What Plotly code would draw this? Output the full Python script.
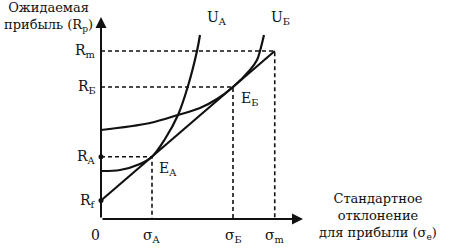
import plotly.graph_objects as go

# --- data (arbitrary units) ---
sigma_names = ["A", "Б", "m"]
sigma_vals = [2.04, 5.28, 6.95]
R_f = 0.74
R_m = 6.72
R_names = ["A", "Б"]
R_vals = [2.49, 5.28]

ua_x = [0.0, 0.76, 1.56, 2.04, 2.56, 3.08, 3.48, 3.84, 3.96]
ua_y = [1.92, 1.96, 2.20, 2.49, 3.20, 4.16, 5.32, 6.72, 7.36]
ub_x = [0.0, 1.96, 3.08, 3.96, 4.64, 5.28, 5.96, 6.24, 6.36, 6.52]
ub_y = [3.56, 3.84, 4.16, 4.44, 4.80, 5.28, 5.96, 6.36, 6.72, 7.36]

x_axis_end = 8.08
y_axis_end = 8.08

FONT = "DejaVu Serif"
BLACK = "#111111"

fig = go.Figure()

# dashed guide lines
dash = dict(color=BLACK, width=1.6, dash="4px,3px")
for sx, ry in zip(sigma_vals, R_vals + [R_m]):
    fig.add_trace(go.Scatter(x=[0, sx, sx], y=[ry, ry, 0], mode="lines",
                             line=dash, hoverinfo="skip"))

# capital market line
fig.add_trace(go.Scatter(x=[0, sigma_vals[2]], y=[R_f, R_m], mode="lines",
                         line=dict(color=BLACK, width=2.2), hoverinfo="skip"))

# indifference curves
fig.add_trace(go.Scatter(x=ua_x, y=ua_y, mode="lines",
                         line=dict(color=BLACK, width=2.2, shape="spline", smoothing=1.0),
                         hoverinfo="skip"))
fig.add_trace(go.Scatter(x=ub_x, y=ub_y, mode="lines",
                         line=dict(color=BLACK, width=2.2, shape="spline", smoothing=1.0),
                         hoverinfo="skip"))

# dots on the axis
fig.add_trace(go.Scatter(x=[0, 0], y=[R_vals[0], R_f], mode="markers",
                         marker=dict(color=BLACK, size=5), hoverinfo="skip"))

anns = []
# axes with arrows
anns.append(dict(x=x_axis_end, y=0, ax=0, ay=0, xref="x", yref="y", axref="x", ayref="y",
                 showarrow=True, arrowhead=2, arrowsize=1.1, arrowwidth=2, arrowcolor=BLACK, text=""))
anns.append(dict(x=0, y=y_axis_end, ax=0, ay=0, xref="x", yref="y", axref="x", ayref="y",
                 showarrow=True, arrowhead=2, arrowsize=1.1, arrowwidth=2, arrowcolor=BLACK, text=""))

tf = dict(family=FONT, size=14, color=BLACK)
# R labels
for name, val in zip(["m"] + R_names + ["f"], [R_m] + R_vals + [R_f]):
    anns.append(dict(x=-0.14, y=val, xref="x", yref="y", text=f"R<sub>{name}</sub>",
                     showarrow=False, xanchor="right", yanchor="middle", font=tf))
# sigma labels
for name, val in zip(sigma_names, sigma_vals):
    anns.append(dict(x=val, y=-0.25, xref="x", yref="y", text=f"σ<sub>{name}</sub>",
                     showarrow=False, xanchor="center", yanchor="top", font=tf))
anns.append(dict(x=-0.22, y=-0.25, xref="x", yref="y", text="0", showarrow=False,
                 xanchor="center", yanchor="top", font=tf))
# curve labels
anns.append(dict(x=ua_x[-1] + 0.2, y=ua_y[-1] + 0.25, xref="x", yref="y", text="U<sub>A</sub>",
                 showarrow=False, xanchor="left", yanchor="bottom", font=tf))
anns.append(dict(x=ub_x[-1] + 0.2, y=ub_y[-1] + 0.25, xref="x", yref="y", text="U<sub>Б</sub>",
                 showarrow=False, xanchor="left", yanchor="bottom", font=tf))
anns.append(dict(x=sigma_vals[0] + 0.2, y=R_vals[0] - 0.05, xref="x", yref="y", text="E<sub>A</sub>",
                 showarrow=False, xanchor="left", yanchor="top", font=tf))
anns.append(dict(x=sigma_vals[1] + 0.22, y=R_vals[1] - 0.05, xref="x", yref="y", text="E<sub>Б</sub>",
                 showarrow=False, xanchor="left", yanchor="top", font=tf))
# axis titles
anns.append(dict(x=48 / 450, y=1 - 17 / 249, xref="paper", yref="paper",
                 text="Ожидаемая<br>прибыль (R<sub>p</sub>)", showarrow=False,
                 xanchor="center", yanchor="middle", align="center",
                 font=dict(family=FONT, size=13, color=BLACK)))
anns.append(dict(x=378 / 450, y=1 - 216 / 249, xref="paper", yref="paper",
                 text="Стандартное<br>отклонение<br>для прибыли (σ<sub>e</sub>)", showarrow=False,
                 xanchor="center", yanchor="middle", align="center",
                 font=dict(family=FONT, size=13, color=BLACK)))

fig.update_layout(
    width=450, height=249,
    margin=dict(l=0, r=0, t=0, b=0),
    paper_bgcolor="white", plot_bgcolor="white",
    showlegend=False,
    xaxis=dict(range=[-101 / 25, 349 / 25], visible=False, fixedrange=True),
    yaxis=dict(range=[-30 / 25, 219 / 25], visible=False, fixedrange=True),
    annotations=anns,
)

fig.write_html("out.html")
